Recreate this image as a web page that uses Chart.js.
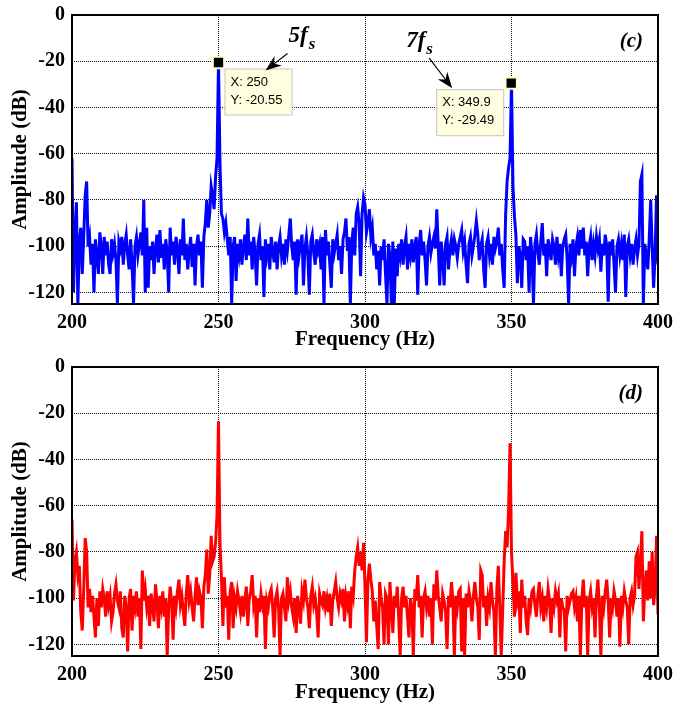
<!DOCTYPE html>
<html>
<head>
<meta charset="utf-8">
<script src="https://cdn.jsdelivr.net/npm/chart.js@4.4.1/dist/chart.umd.min.js"></script>
<style>
html, body { margin: 0; padding: 0; background: #fff; }
#wrapC { position: absolute; left: 0; top: 0; width: 676px; height: 352px; }
#wrapD { position: absolute; left: 0; top: 352px; width: 676px; height: 353px; }
</style>
</head>
<body>
<div id="wrapC"><canvas id="chartC"></canvas></div>
<div id="wrapD"><canvas id="chartD"></canvas></div>
<script>
//GLOBAL VARS
// spectrum sample grid (Hz)
var freqStart = 200;
var freqStep = 0.5;

var xTicks = [200, 250, 300, 350, 400];
var yTicks = [0, -20, -40, -60, -80, -100, -120];

// (c) amplitude in dB, one value per 0.5 Hz from 200 to 400 Hz
var ampC = [
  -62, -120, -96, -81, -125, -98, -92, -112, -96, -78, -72, -100, -96, -108, -99, -120, -97, -104, -112, -94,
  -100, -112, -96, -104, -98, -108, -112, -97, -103, -99, -106, -125, -98, -101, -96, -108, -99, -95, -104, -110,
  -97, -108, -125, -100, -96, -104, -99, -94, -104, -80, -120, -92, -118, -100, -106, -98, -112, -101, -95, -107,
  -93, -105, -99, -110, -97, -103, -120, -92, -104, -98, -108, -96, -101, -112, -97, -104, -88, -106, -99, -110,
  -102, -96, -109, -99, -117, -100, -95, -104, -98, -118, -96, -90, -80, -92, -86, -74, -78, -84, -70, -62,
  -20.55, -64, -86, -88, -94, -90, -97, -104, -96, -125, -100, -96, -115, -99, -104, -97, -108, -100, -95, -106,
  -88, -104, -98, -110, -96, -103, -117, -99, -95, -106, -100, -122, -97, -104, -99, -110, -96, -102, -107, -98,
  -110, -100, -96, -104, -99, -108, -97, -102, -95, -88, -100, -106, -98, -121, -97, -104, -99, -95, -117, -101,
  -96, -104, -121, -98, -95, -103, -108, -97, -102, -99, -110, -96, -125, -93, -104, -98, -108, -118, -97, -103,
  -99, -95, -106, -100, -112, -97, -94, -88, -102, -96, -125, -98, -92, -104, -86, -83, -90, -113, -86, -79,
  -82, -94, -90, -84, -96, -92, -104, -99, -110, -102, -117, -100, -106, -97, -112, -125, -99, -104, -125, -98,
  -125, -101, -113, -99, -104, -97, -108, -100, -96, -110, -99, -104, -97, -107, -100, -96, -121, -99, -93, -104,
  -98, -106, -117, -100, -96, -103, -99, -96, -101, -84, -100, -117, -98, -104, -117, -99, -96, -110, -101, -97,
  -104, -97, -100, -105, -99, -96, -93, -102, -98, -108, -116, -99, -96, -104, -100, -95, -89, -95, -106, -100,
  -97, -110, -118, -99, -96, -104, -99, -108, -96, -101, -98, -92, -104, -99, -110, -118, -86, -72, -66, -62,
  -29.49, -74, -87, -95, -116, -100, -104, -118, -97, -98, -106, -100, -120, -96, -104, -125, -99, -95, -103, -108,
  -98, -90, -104, -99, -113, -97, -101, -106, -97, -100, -108, -96, -104, -99, -113, -100, -97, -95, -106, -125,
  -99, -104, -97, -113, -100, -96, -104, -93, -101, -92, -104, -98, -113, -100, -96, -106, -99, -104, -96, -101,
  -97, -111, -99, -104, -95, -100, -124, -98, -104, -97, -108, -120, -100, -97, -104, -99, -106, -95, -122, -100,
  -97, -104, -99, -108, -101, -97, -104, -99, -72, -69, -125, -99, -104, -110, -97, -80, -100, -118, -104, -78,
  -108
];

// (d) amplitude in dB, same grid
var ampD = [
  -66, -101, -84, -80, -90, -86, -106, -114, -96, -74, -80, -104, -96, -106, -99, -108, -117, -100, -112, -97,
  -104, -96, -100, -108, -97, -103, -99, -110, -106, -98, -94, -101, -104, -97, -113, -117, -99, -104, -123, -100,
  -96, -114, -99, -104, -97, -108, -100, -122, -88, -101, -96, -104, -99, -112, -98, -103, -110, -94, -101, -113,
  -99, -104, -97, -108, -100, -125, -104, -95, -101, -118, -99, -104, -97, -92, -103, -99, -106, -112, -98, -90,
  -101, -97, -104, -110, -99, -91, -103, -97, -100, -113, -95, -90, -79, -98, -90, -73, -84, -82, -76, -64,
  -23.5, -76, -91, -112, -91, -104, -99, -118, -97, -93, -113, -100, -104, -97, -101, -106, -99, -108, -101, -95,
  -112, -100, -97, -90, -103, -99, -117, -100, -106, -98, -103, -99, -122, -101, -104, -98, -96, -104, -117, -100,
  -97, -104, -125, -100, -98, -104, -110, -91, -101, -97, -104, -108, -100, -115, -99, -104, -111, -97, -101, -92,
  -100, -104, -113, -99, -95, -103, -100, -106, -117, -98, -101, -103, -97, -104, -100, -106, -98, -112, -101, -97,
  -93, -100, -104, -98, -101, -96, -110, -99, -103, -97, -113, -95, -99, -88, -82, -78, -86, -80, -88, -76,
  -95, -119, -92, -85, -92, -97, -110, -101, -112, -122, -93, -100, -104, -120, -98, -100, -120, -93, -104, -115,
  -99, -104, -95, -108, -125, -100, -95, -104, -99, -108, -117, -100, -104, -125, -96, -101, -90, -104, -99, -117,
  -100, -97, -104, -99, -108, -100, -120, -94, -101, -88, -99, -104, -110, -98, -101, -106, -122, -99, -104, -93,
  -101, -125, -99, -104, -97, -96, -123, -100, -125, -98, -104, -97, -101, -110, -99, -93, -100, -104, -118, -88,
  -90, -104, -99, -112, -100, -104, -93, -101, -106, -125, -96, -86, -104, -125, -105, -84, -71, -78, -62, -33,
  -80, -93, -108, -89, -101, -97, -115, -92, -104, -99, -110, -116, -100, -104, -97, -96, -103, -108, -99, -93,
  -104, -100, -110, -99, -104, -96, -101, -115, -100, -104, -97, -101, -98, -117, -100, -104, -105, -123, -99, -104,
  -101, -98, -97, -104, -100, -110, -99, -125, -101, -92, -104, -99, -125, -101, -97, -104, -100, -117, -99, -92,
  -104, -125, -99, -104, -97, -92, -101, -117, -100, -104, -97, -101, -108, -100, -121, -99, -104, -97, -101, -104,
  -120, -100, -97, -103, -99, -82, -80, -96, -84, -71, -110, -96, -88, -101, -84, -100, -80, -103, -96, -73,
  -107
];

// data tips shown on panel (c)
var peakFreqC = [250, 349.9];
var peakAmpC = [-20.55, -29.49];
var peakHarmonic = ['5', '7'];

function toPoints(values)
{
    var pts = [];
    for (var i = 0; i < values.length; i++) {
        pts.push({ x: freqStart + i * freqStep, y: values[i] });
    }
    return pts;
}

function peakPoints()
{
    var pts = [];
    for (var i = 0; i < peakFreqC.length; i++) {
        pts.push({ x: peakFreqC[i], y: peakAmpC[i] });
    }
    return pts;
}

// black box round the plot area + panel letter
var framePlugin = {
    id: 'frame',
    afterDraw: function(chart) {
        var a = chart.chartArea, ctx = chart.ctx;
        ctx.save();
        ctx.strokeStyle = '#000';
        ctx.lineWidth = 2;
        ctx.strokeRect(a.left, a.top, a.right - a.left, a.bottom - a.top);
        var txt = chart.options.plugins.frame.panel;
        ctx.font = 'italic bold 21px "Liberation Serif"';
        ctx.fillStyle = '#000';
        ctx.textAlign = 'right';
        ctx.textBaseline = 'alphabetic';
        ctx.fillText(txt, a.right - 15, a.top + 32);
        ctx.restore();
    }
};

function drawArrow(ctx, x0, y0, x1, y1)
{
    var ang = Math.atan2(y1 - y0, x1 - x0);
    var len = 16, half = 6;
    ctx.beginPath();
    ctx.moveTo(x0, y0);
    ctx.lineTo(x1 - Math.cos(ang) * 10, y1 - Math.sin(ang) * 10);
    ctx.stroke();
    ctx.beginPath();
    ctx.moveTo(x1, y1);
    ctx.lineTo(x1 - Math.cos(ang) * len - Math.sin(ang) * half, y1 - Math.sin(ang) * len + Math.cos(ang) * half);
    ctx.lineTo(x1 - Math.cos(ang) * (len - 5), y1 - Math.sin(ang) * (len - 5));
    ctx.lineTo(x1 - Math.cos(ang) * len + Math.sin(ang) * half, y1 - Math.sin(ang) * len - Math.cos(ang) * half);
    ctx.closePath();
    ctx.fill();
}

function drawHarmonic(ctx, n, x, y)
{
    ctx.font = 'italic bold 23px "Liberation Serif"';
    ctx.textAlign = 'left';
    ctx.textBaseline = 'alphabetic';
    ctx.fillText(n + 'f', x, y);
    var w = ctx.measureText(n + 'f').width;
    ctx.font = 'italic bold 17px "Liberation Serif"';
    ctx.fillText('s', x + w + 1, y + 7);
}

var tipPlugin = {
    id: 'dataTips',
    afterDatasetsDraw: function(chart) {
        if (!chart.options.plugins.dataTips.enabled) return;
        var xs = chart.scales.x, ys = chart.scales.y, ctx = chart.ctx;
        ctx.save();
        for (var i = 0; i < peakFreqC.length; i++) {
            var px = xs.getPixelForValue(peakFreqC[i]);
            var py = ys.getPixelForValue(peakAmpC[i]);
            var w = 67, h = 46;
            var bx = i == 0 ? px + 6 : px - 8 - w;
            var by = py + 6;
            ctx.fillStyle = '#ffffe0';
            ctx.fillRect(bx, by, w, h);
            ctx.strokeStyle = '#c4c4c4';
            ctx.lineWidth = 1;
            ctx.strokeRect(bx + 0.5, by + 0.5, w, h);
            ctx.fillStyle = '#000';
            ctx.font = '13px "Liberation Sans"';
            ctx.textAlign = 'left';
            ctx.textBaseline = 'alphabetic';
            ctx.fillText('X: ' + peakFreqC[i], bx + 6, by + 17);
            ctx.fillText('Y: ' + peakAmpC[i], bx + 6, by + 35);

            ctx.strokeStyle = '#000';
            ctx.lineWidth = 1.2;
            if (i == 0) {
                drawHarmonic(ctx, peakHarmonic[i], px + 70, py - 21);
                drawArrow(ctx, px + 69, py - 9, px + 47, py + 8);
            } else {
                drawHarmonic(ctx, peakHarmonic[i], px - 105, py - 36);
                drawArrow(ctx, px - 82, py - 25, px - 59, py + 5);
            }
        }
        ctx.restore();
    }
};

function buildOptions(panel, withTips, axisHeight)
{
    var tickFont = { family: '"Liberation Serif"', size: 20, weight: 'bold' };
    var titleFont = { family: '"Liberation Serif"', size: 21, weight: 'bold' };
    return {
        animation: false,
        responsive: true,
        maintainAspectRatio: false,
        layout: { padding: { top: 15, right: 18, left: 0, bottom: 0 } },
        plugins: {
            legend: { display: false },
            tooltip: { enabled: false },
            frame: { panel: panel },
            dataTips: { enabled: withTips }
        },
        elements: { line: { tension: 0 } },
        scales: {
            x: {
                type: 'linear',
                min: 200,
                max: 400,
                afterBuildTicks: function(scale) {
                    scale.ticks = xTicks.map(function(v) { return { value: v }; });
                },
                afterFit: function(scale) {
                    scale.height = axisHeight;
                    scale.paddingLeft = 0;
                    scale.paddingRight = 0;
                },
                grid: { color: '#111', lineWidth: 1, drawTicks: false },
                border: { display: false, dash: [1, 1] },
                ticks: { color: '#000', font: tickFont, padding: 7, autoSkip: false, maxRotation: 0 },
                title: { display: true, text: 'Frequency (Hz)', color: '#000', font: titleFont, padding: { top: 0, bottom: 0 } }
            },
            y: {
                type: 'linear',
                min: -125,
                max: 0,
                afterBuildTicks: function(scale) {
                    scale.ticks = yTicks.map(function(v) { return { value: v }; });
                },
                afterFit: function(scale) {
                    scale.width = 72;
                    scale.paddingTop = 0;
                    scale.paddingBottom = 0;
                },
                grid: { color: '#111', lineWidth: 1, drawTicks: false },
                border: { display: false, dash: [1, 1] },
                ticks: { color: '#000', font: tickFont, padding: 7, autoSkip: false },
                title: { display: true, text: 'Amplitude (dB)', color: '#000', font: titleFont, padding: { top: 8, bottom: 0 } }
            }
        }
    };
}

function initialiseSpectrumCharts()
{
    new Chart(document.getElementById('chartC'), {
        type: 'line',
        data: {
            datasets: [
                {
                    label: 'data tips',
                    data: peakPoints(),
                    showLine: false,
                    pointStyle: 'rect',
                    pointRadius: 8,
                    pointBackgroundColor: '#000',
                    pointBorderColor: '#ffffc0',
                    pointBorderWidth: 2
                },
                {
                    label: 'spectrum (c)',
                    data: toPoints(ampC),
                    borderColor: '#0000ff',
                    borderWidth: 3,
                    pointRadius: 0,
                    fill: false
                }
            ]
        },
        options: buildOptions('(c)', true, 48),
        plugins: [framePlugin, tipPlugin]
    });

    new Chart(document.getElementById('chartD'), {
        type: 'line',
        data: {
            datasets: [
                {
                    label: 'spectrum (d)',
                    data: toPoints(ampD),
                    borderColor: '#ff0000',
                    borderWidth: 3,
                    pointRadius: 0,
                    fill: false
                }
            ]
        },
        options: buildOptions('(d)', false, 49),
        plugins: [framePlugin, tipPlugin]
    });
}

initialiseSpectrumCharts();
</script>
</body>
</html>
